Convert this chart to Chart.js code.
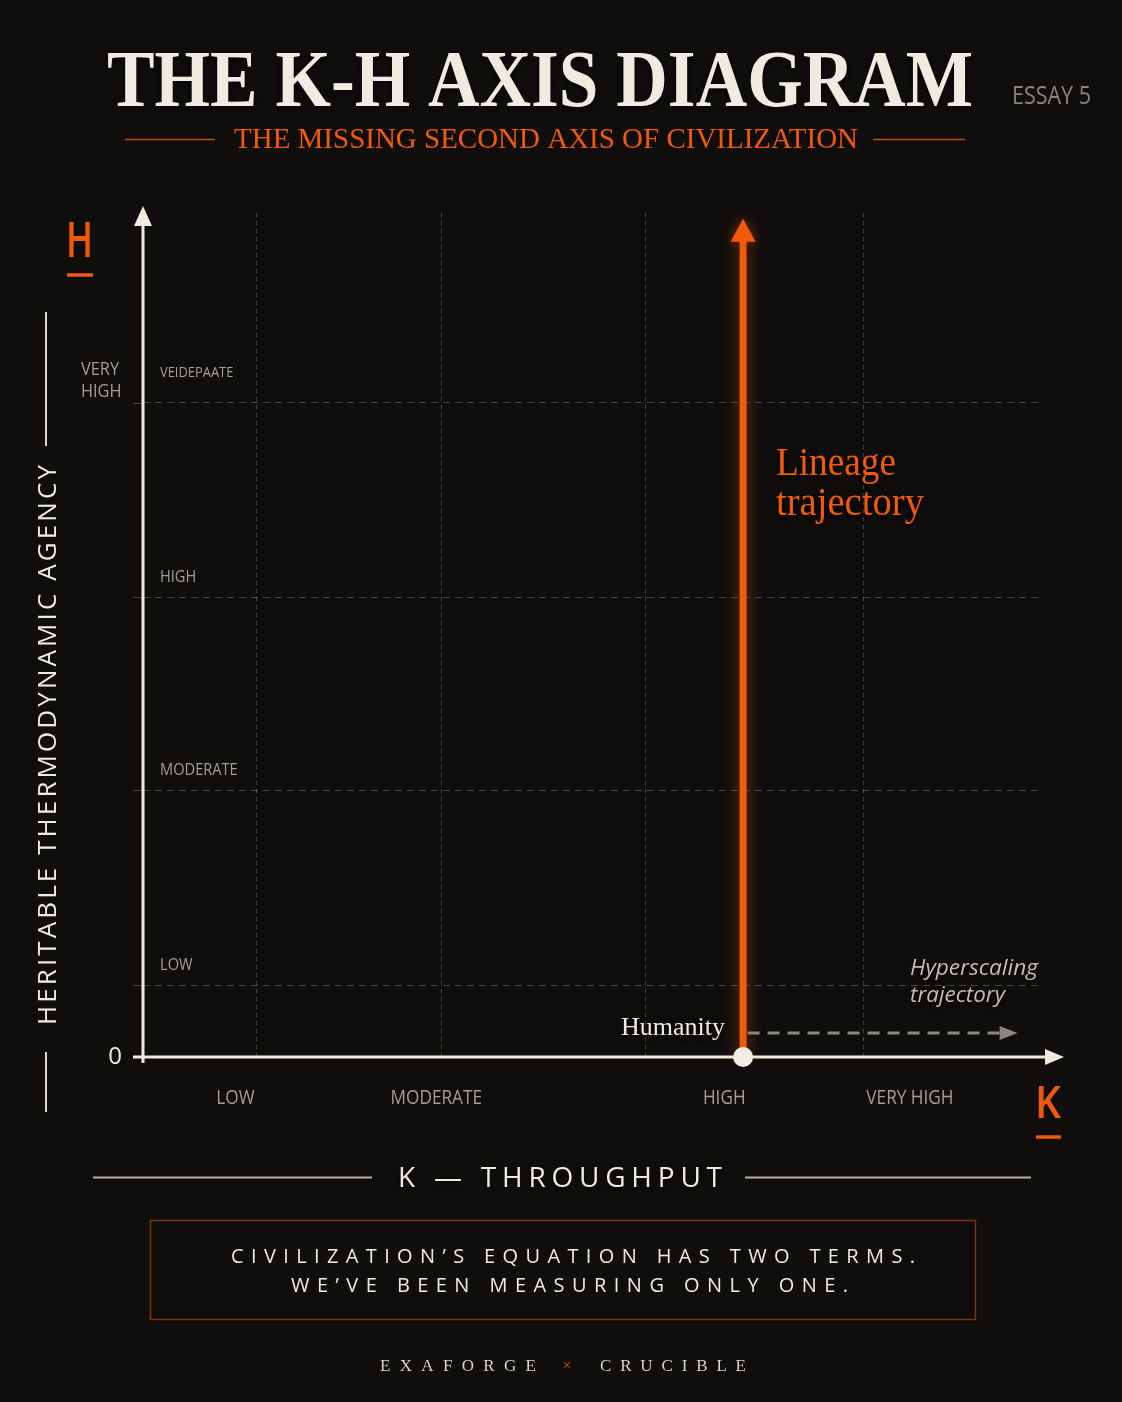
<!DOCTYPE html>
<html>
<head>
<meta charset="utf-8">
<script src="https://cdn.jsdelivr.net/npm/chart.js@4.4.1/dist/chart.umd.min.js"></script>
<style>
  html, body { margin: 0; padding: 0; background: #0f0e0d; }
  canvas { display: block; }
</style>
</head>
<body>
<canvas id="kh" width="1122" height="1402"></canvas>
<script>
// K axis (throughput) - label positions and grid positions on a 0..100 scale
var kLabels = ["LOW", "MODERATE", "HIGH", "VERY HIGH"];
var kLabelPos = [10.3, 32.7, 64.8, 85.5];
var kGrid = [12.6, 33.3, 56.0, 80.3];
// H axis (heritable agency)
var hLabels = ["LOW", "MODERATE", "HIGH", "VEIDEPAATE"];
var hGrid = [8.5, 31.6, 54.5, 77.5];
// trajectories
var lineageK = [66.9, 66.9];
var lineageH = [0, 96.7];
var hyperK = [67.4, 95.5];
var hyperH = [2.84, 2.84];
var humanityK = [66.9];
var humanityH = [0];

var ORANGE = "#f25a0a";
var CREAM = "#f0ebe0";
var GREY = "#a49e95";

function pts(xs, ys) {
	return xs.map(function (x, i) { return { x: x, y: ys[i] }; });
}

// text helper: letter spacing, horizontal squeeze, alignment
function drawText(ctx, s, x, y, o) {
	ctx.save();
	ctx.font = o.font;
	ctx.fillStyle = o.color;
	ctx.textBaseline = o.baseline || "alphabetic";
	ctx.textAlign = "left";
	var chars = Array.from(s);
	var widths = chars.map(function (c) { return ctx.measureText(c).width; });
	var spaced = o.spacing !== undefined || o.fitBy === "spacing";
	var raw = spaced
		? widths.reduce(function (a, b) { return a + b; }, 0)
		: ctx.measureText(s).width;
	var sp = o.spacing || 0;
	var sx = o.scaleX || 1;
	if (o.fitWidth && o.fitBy === "spacing") sp = (o.fitWidth - raw) / (chars.length - 1);
	else if (o.fitWidth) sx = o.fitWidth / (raw + sp * (chars.length - 1));
	var total = (raw + sp * (chars.length - 1)) * sx;
	var left = x;
	if (o.align === "center") left = x - total / 2;
	if (o.align === "right") left = x - total;
	ctx.translate(left, y);
	ctx.scale(sx, 1);
	if (o.shadow) {
		ctx.shadowColor = "rgba(0,0,0,0.9)";
		ctx.shadowBlur = 6;
		ctx.shadowOffsetY = 2;
	}
	if (!spaced) {
		ctx.fillText(s, 0, 0);
	} else {
		var cx = 0;
		chars.forEach(function (c, i) {
			ctx.fillText(c, cx, 0);
			cx += widths[i] + sp;
		});
	}
	ctx.restore();
}

function hline(ctx, x1, x2, y, color, w) {
	ctx.save();
	ctx.strokeStyle = color;
	ctx.lineWidth = w;
	ctx.beginPath();
	ctx.moveTo(x1, y);
	ctx.lineTo(x2, y);
	ctx.stroke();
	ctx.restore();
}

function arrowHead(ctx, x, y, dir, len, half, color) {
	ctx.save();
	ctx.fillStyle = color;
	ctx.beginPath();
	if (dir === "up") {
		ctx.moveTo(x, y - len);
		ctx.lineTo(x - half, y);
		ctx.lineTo(x + half, y);
	} else {
		ctx.moveTo(x + len, y);
		ctx.lineTo(x, y - half);
		ctx.lineTo(x, y + half);
	}
	ctx.closePath();
	ctx.fill();
	ctx.restore();
}

var decor = {
	id: "decor",
	beforeDraw: function (chart) {
		var ctx = chart.ctx;
		ctx.save();
		ctx.fillStyle = "#0f0e0d";
		ctx.fillRect(0, 0, chart.width, chart.height);
		ctx.restore();

		// title block
		drawText(ctx, "THE K-H AXIS DIAGRAM", 107, 106, { font: "bold 80px 'Liberation Serif'", color: CREAM, fitWidth: 866, shadow: true });
		drawText(ctx, "ESSAY 5", 1012, 104, { font: "26px 'Open Sans'", color: "#8a857e", fitWidth: 79 });
		drawText(ctx, "THE MISSING SECOND AXIS OF CIVILIZATION", 234, 148, { font: "29px 'Liberation Serif'", color: ORANGE, fitWidth: 624 });
		hline(ctx, 125, 215, 139.5, "#c2480c", 1.5);
		hline(ctx, 873, 965, 139.5, "#c2480c", 1.5);

		// axis letters
		drawText(ctx, "H", 66, 257, { font: "600 48px 'Open Sans'", color: ORANGE, fitWidth: 27 });
		hline(ctx, 67, 93, 275, ORANGE, 3.5);
		drawText(ctx, "K", 1035, 1118, { font: "600 46px 'Open Sans'", color: ORANGE, fitWidth: 26 });
		hline(ctx, 1036, 1061, 1137, ORANGE, 3.5);

		// vertical axis title
		ctx.save();
		ctx.translate(56, 745);
		ctx.rotate(-Math.PI / 2);
		drawText(ctx, "HERITABLE THERMODYNAMIC AGENCY", -280, 0, { font: "26px 'Open Sans'", color: CREAM, fitWidth: 560, fitBy: "spacing" });
		ctx.restore();
		ctx.save();
		ctx.strokeStyle = "#d9d3c8";
		ctx.lineWidth = 2;
		ctx.beginPath();
		ctx.moveTo(46, 312); ctx.lineTo(46, 446);
		ctx.moveTo(46, 1052); ctx.lineTo(46, 1112);
		ctx.stroke();
		ctx.restore();

		// bottom title
		drawText(ctx, "K — THROUGHPUT", 398, 1187, { font: "28px 'Open Sans'", color: CREAM, fitWidth: 324, fitBy: "spacing", shadow: true });
		hline(ctx, 93, 372, 1177.5, "#b5afa5", 2);
		hline(ctx, 745, 1031, 1177.5, "#b5afa5", 2);

		// statement box
		ctx.save();
		ctx.strokeStyle = "#7a3510";
		ctx.lineWidth = 1.5;
		ctx.strokeRect(150.5, 1220.5, 825, 99);
		ctx.restore();
		drawText(ctx, "CIVILIZATION’S EQUATION HAS TWO TERMS.", 231, 1263, { font: "20px 'Open Sans'", color: CREAM, fitWidth: 684, fitBy: "spacing" });
		drawText(ctx, "WE’VE BEEN MEASURING ONLY ONE.", 291, 1292, { font: "20px 'Open Sans'", color: CREAM, fitWidth: 557, fitBy: "spacing" });

		// footer
		drawText(ctx, "EXAFORGE", 380, 1371, { font: "17px 'Liberation Serif'", color: "#d9d3c8", fitWidth: 156, fitBy: "spacing" });
		drawText(ctx, "×", 567, 1370, { font: "15px 'Liberation Serif'", color: ORANGE, align: "center" });
		drawText(ctx, "CRUCIBLE", 600, 1371, { font: "17px 'Liberation Serif'", color: "#d9d3c8", fitWidth: 146, fitBy: "spacing" });
	},
	beforeDatasetsDraw: function (chart) {
		var ctx = chart.ctx;
		var xs = chart.scales.x, ys = chart.scales.y;
		var left = chart.chartArea.left;
		var zero = ys.getPixelForValue(0);
		// short grid extensions left of the H axis
		ctx.save();
		ctx.strokeStyle = "rgba(200,192,180,0.3)";
		ctx.lineWidth = 1;
		hGrid.forEach(function (v) {
			var py = Math.round(ys.getPixelForValue(v)) + 0.5;
			ctx.beginPath();
			ctx.moveTo(left - 10, py);
			ctx.lineTo(left, py);
			ctx.stroke();
		});
		ctx.restore();
		// axes
		ctx.save();
		ctx.strokeStyle = CREAM;
		ctx.lineWidth = 3;
		ctx.beginPath();
		ctx.moveTo(left, zero + 6);
		ctx.lineTo(left, 224);
		ctx.moveTo(left - 10, zero);
		ctx.lineTo(1047, zero);
		ctx.stroke();
		ctx.restore();
		arrowHead(ctx, left, 226, "up", 20, 9, CREAM);
		arrowHead(ctx, 1045, zero, "right", 19, 8, CREAM);
		drawText(ctx, "0", 115, zero, { font: "24px 'Open Sans'", color: CREAM, align: "center", baseline: "middle" });

		// tick labels
		kLabels.forEach(function (t, i) {
			drawText(ctx, t, xs.getPixelForValue(kLabelPos[i]), 1104, { font: "20px 'Open Sans'", color: GREY, scaleX: 0.86, align: "center" });
		});
		hLabels.forEach(function (t, i) {
			var py = ys.getPixelForValue(hGrid[i]);
			var f = i === 3 ? "15px 'Open Sans'" : "17px 'Open Sans'";
			drawText(ctx, t, 160, i === 3 ? py - 26 : py - 15, { font: f, color: GREY, scaleX: 0.86 });
		});
		drawText(ctx, "VERY", 81, 375, { font: "19px 'Open Sans'", color: GREY, scaleX: 0.86 });
		drawText(ctx, "HIGH", 81, 397, { font: "19px 'Open Sans'", color: GREY, scaleX: 0.86 });
	},
	beforeDatasetDraw: function (chart, args) {
		if (args.index === 0) {
			var ctx = chart.ctx;
			ctx.save();
			ctx.shadowColor = "rgba(242,90,10,0.55)";
			ctx.shadowBlur = 16;
		}
	},
	afterDatasetDraw: function (chart, args) {
		if (args.index === 0) chart.ctx.restore();
	},
	afterDatasetsDraw: function (chart) {
		var ctx = chart.ctx;
		var xs = chart.scales.x, ys = chart.scales.y;
		// arrow tips of the trajectories
		var lx = xs.getPixelForValue(lineageK[1]);
		var ly = ys.getPixelForValue(lineageH[1]);
		ctx.save();
		ctx.shadowColor = "rgba(242,90,10,0.55)";
		ctx.shadowBlur = 12;
		arrowHead(ctx, lx, ly + 1, "up", 23, 12.5, ORANGE);
		ctx.restore();
		var hx = xs.getPixelForValue(hyperK[1]);
		var hy = ys.getPixelForValue(hyperH[1]);
		arrowHead(ctx, hx, hy, "right", 18, 7, "#8c8780");

		// annotations
		drawText(ctx, "Lineage", 776, 475, { font: "40px 'Liberation Serif'", color: ORANGE, fitWidth: 120, shadow: true });
		drawText(ctx, "trajectory", 776, 515, { font: "40px 'Liberation Serif'", color: ORANGE, fitWidth: 148, shadow: true });
		drawText(ctx, "Humanity", 725, 1035, { font: "26px 'Liberation Serif'", color: CREAM, align: "right", shadow: true });
		drawText(ctx, "Hyperscaling", 910, 975, { font: "italic 21px 'Open Sans'", color: "#c4bdb2", fitWidth: 128, shadow: true });
		drawText(ctx, "trajectory", 910, 1002, { font: "italic 21px 'Open Sans'", color: "#c4bdb2", fitWidth: 95, shadow: true });
	}
};

var chart_kh = new Chart(document.getElementById("kh").getContext("2d"), {
	type: "scatter",
	data: {
		datasets: [
			{
				label: "Lineage trajectory",
				data: pts(lineageK, lineageH),
				showLine: true,
				borderColor: ORANGE,
				borderWidth: 7,
				pointRadius: 0,
				order: 1,
				clip: false,
			},
			{
				label: "Hyperscaling trajectory",
				data: pts(hyperK, hyperH),
				showLine: true,
				borderColor: "#8c8780",
				borderWidth: 3,
				borderDash: [12, 8],
				pointRadius: 0,
				order: 2,
				clip: false,
			},
			{
				label: "Humanity",
				data: pts(humanityK, humanityH),
				pointRadius: 10,
				pointBackgroundColor: "#f2ede4",
				pointBorderWidth: 0,
				order: 0,
				clip: false,
			},
		],
	},
	options: {
		responsive: false,
		animation: false,
		layout: { padding: { left: 143, right: 82, top: 213, bottom: 345 } },
		plugins: { legend: { display: false }, tooltip: { enabled: false } },
		scales: {
			x: {
				type: "linear",
				min: 0,
				max: 100,
				afterBuildTicks: function (s) { s.ticks = kGrid.map(function (v) { return { value: v }; }); },
				ticks: { display: false },
				grid: { color: "rgba(200,192,180,0.32)", lineWidth: 1, drawTicks: false },
				border: { display: false, dash: [4, 4] },
			},
			y: {
				type: "linear",
				min: 0,
				max: 100,
				afterBuildTicks: function (s) { s.ticks = hGrid.map(function (v) { return { value: v }; }); },
				ticks: { display: false },
				grid: { color: "rgba(200,192,180,0.32)", lineWidth: 1, drawTicks: false },
				border: { display: false, dash: [7, 5] },
			},
		},
	},
	plugins: [decor],
});
</script>
</body>
</html>
